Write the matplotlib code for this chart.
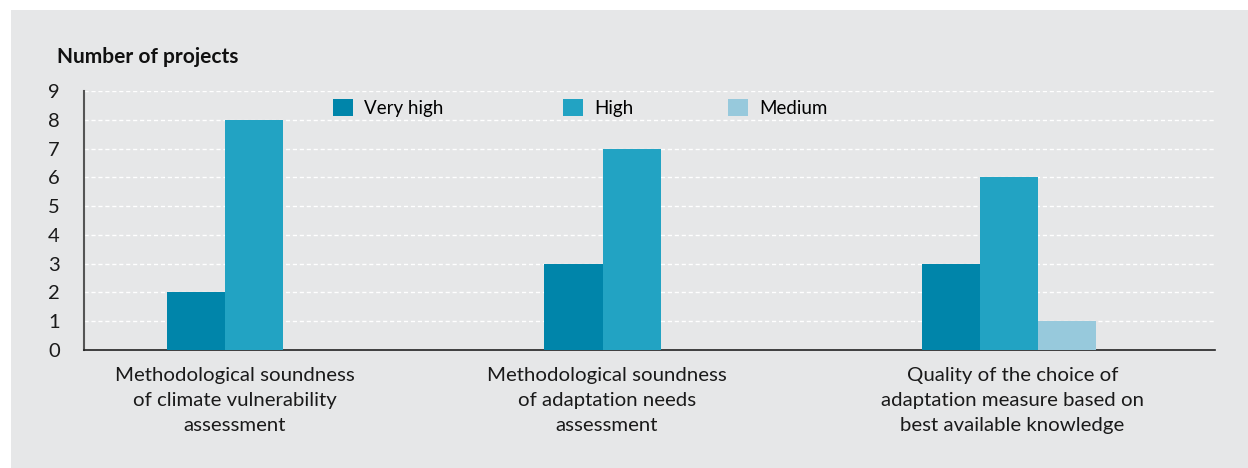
import matplotlib.pyplot as plt
from matplotlib.patches import Rectangle, Patch

# Project ratings per assessment criterion
categories = [
    "Methodological soundness\nof climate vulnerability\nassessment",
    "Methodological soundness\nof adaptation needs\nassessment",
    "Quality of the choice of\nadaptation measure based on\nbest available knowledge",
]
very_high = [2, 3, 3]
high = [8, 7, 6]
medium = [0, 0, 1]
series_names = ["Very high", "High", "Medium"]
yticks = list(range(0, 10))

colors = ["#0085aa", "#22a3c3", "#97c9dc"]
bg = "#e6e7e8"

plt.rcParams["font.family"] = ["Lato", "DejaVu Sans"]

fig = plt.figure(figsize=(12.48, 4.68), dpi=100)
fig.patch.set_facecolor("white")
# grey panel behind everything
fig.patches.append(Rectangle((11 / 1248, 0), 1, 1 - 10 / 468,
                             transform=fig.transFigure, facecolor=bg,
                             edgecolor="none", zorder=-5))

ax = fig.add_axes([84 / 1248, 1 - 350 / 468, (1215 - 84) / 1248, (350 - 91) / 468])
ax.patch.set_visible(False)

w = 0.154
x = [0, 1, 2]
ax.bar([g - w for g in x], very_high, width=w, align="edge", color=colors[0], zorder=3)
ax.bar(x, high, width=w, align="edge", color=colors[1], zorder=3)
ax.bar([g + w for g in x], medium, width=w, align="edge", color=colors[2], zorder=3)

ax.set_xlim(-0.3735, 2.622)
ax.set_ylim(0, 9)
ax.set_yticks(yticks)
ax.yaxis.grid(True, color="white", linestyle=(0, (3, 2)), linewidth=1)
ax.set_axisbelow(True)

label_pos = [0.026, 1.012, 2.085]
ax.set_xticks(label_pos)
ax.set_xticklabels(categories, fontsize=14.7, color="#1a1a1a", linespacing=1.58)
ax.tick_params(axis="x", length=0, pad=12)
ax.tick_params(axis="y", length=0, pad=26, labelsize=14.5, labelcolor="#1a1a1a")
for lbl in ax.get_yticklabels():
    lbl.set_horizontalalignment("left")

for s in ["top", "right"]:
    ax.spines[s].set_visible(False)
ax.spines["left"].set_color("#555555")
ax.spines["left"].set_linewidth(1.5)
ax.spines["bottom"].set_color("#222222")
ax.spines["bottom"].set_linewidth(1.2)

fig.text(57 / 1248, 1 - 57 / 468, "Number of projects", fontsize=15,
         fontweight="bold", va="center", ha="left", color="#111111")

# legend entries are spaced unevenly, so place each one on its own
legend_x = [333, 563, 728]
for name, c, lx in zip(series_names, colors, legend_x):
    leg = fig.legend(handles=[Patch(facecolor=c)], labels=[name],
                     loc="center left", bbox_to_anchor=(lx / 1248, 1 - 108 / 468),
                     frameon=False, fontsize=13.5, handlelength=1.05,
                     handleheight=1.0, handletextpad=0.6, borderpad=0,
                     borderaxespad=0)
    leg.set_zorder(5)

fig.savefig("out.png", dpi=100)
